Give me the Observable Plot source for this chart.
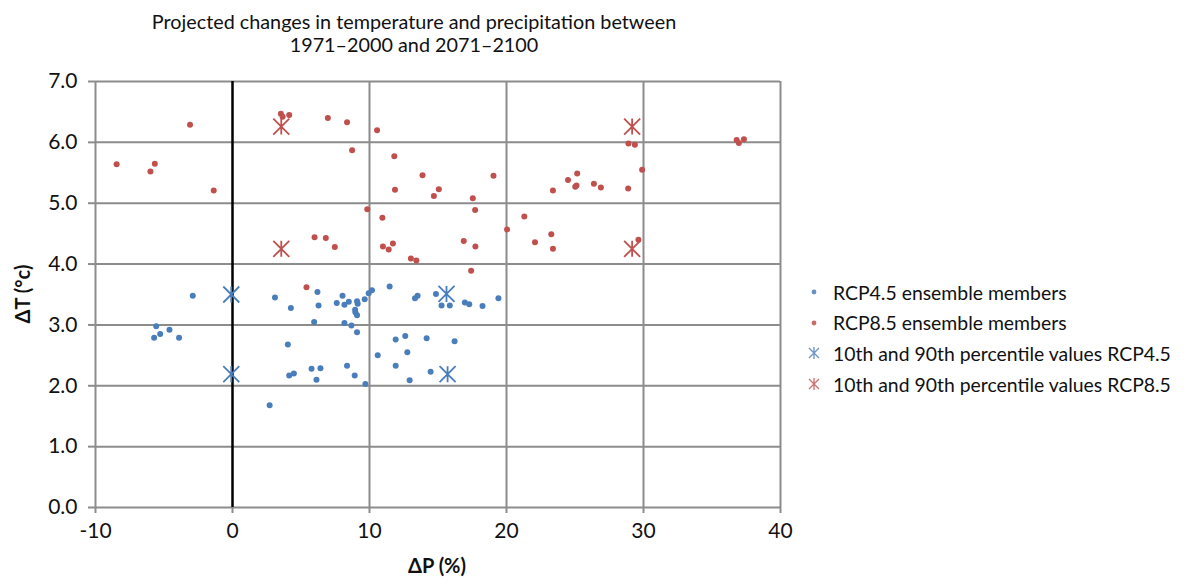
<!DOCTYPE html>
<html>
<head>
<meta charset="utf-8">
<script src="https://cdn.jsdelivr.net/npm/d3@7"></script>
<script src="https://cdn.jsdelivr.net/npm/@observablehq/plot@0.6"></script>
<style>
  html, body { margin: 0; padding: 0; background: #fff; }
  #wrap { position: relative; width: 1189px; height: 581px; font-family: Lato, "DejaVu Sans", sans-serif; color: #111; }
  #title { position: absolute; left: 0; top: 10px; width: 828px; text-align: center; font-size: 19.8px; line-height: 23px; }
  #xlabel { position: absolute; left: 337px; width: 200px; top: 553px; text-align: center; font-weight: bold; font-size: 20px; }
  #ylabel { position: absolute; left: 22px; top: 294px; transform: translate(-50%, -50%) rotate(-90deg); font-weight: bold; font-size: 20px; white-space: nowrap; }
  #legend { position: absolute; left: 803px; top: 277px; font-size: 19.4px; }
  #legend .item { display: flex; align-items: center; height: 30.6px; }
  #legend svg { width: 22px; height: 20px; margin-right: 8px; }
  #chart svg { display: block; }
</style>
</head>
<body>
<div id="wrap">
  <div id="chart"></div>
  <div id="title">Projected changes in temperature and precipitation between<br>1971–2000 and 2071–2100</div>
  <div id="xlabel">ΔP (%)</div>
  <div id="ylabel">ΔT (°c)</div>
  <div id="legend"></div>
</div>
<script>
// ---- data ----
const xTicks = [-10, 0, 10, 20, 30, 40];
const yTicks = [0, 1, 2, 3, 4, 5, 6, 7];

const rcp45P = [-2.90,-5.57,-5.28,-5.72,-4.60,-3.90,2.71,3.10,6.20,6.28,4.26,5.96,7.61,4.04,4.14,4.48,5.77,6.42,6.13,8.03,8.17,8.49,9.09,9.14,8.95,8.97,9.09,9.65,9.94,10.18,11.47,13.32,13.51,14.85,15.26,15.86,16.96,17.28,18.25,19.41,8.17,8.68,9.09,11.91,12.61,14.17,16.21,10.60,12.76,8.36,11.91,8.92,9.70,12.93,14.46];
const rcp45T = [3.48,2.98,2.85,2.79,2.92,2.79,1.68,3.45,3.54,3.32,3.28,3.05,3.36,2.68,2.17,2.20,2.28,2.29,2.10,3.48,3.33,3.38,3.39,3.35,3.25,3.21,3.16,3.42,3.52,3.57,3.63,3.44,3.48,3.51,3.32,3.32,3.37,3.34,3.31,3.44,3.03,2.99,2.88,2.76,2.82,2.78,2.73,2.50,2.55,2.33,2.33,2.17,2.03,2.09,2.23];

const rcp85P = [-8.46,-5.67,-5.99,-3.10,-1.37,3.53,3.66,4.14,6.96,8.36,10.55,8.73,11.81,13.87,19.05,11.86,15.06,14.70,17.54,17.71,9.84,10.94,5.99,6.81,7.47,5.40,10.98,11.71,11.40,13.02,13.42,16.88,17.73,17.42,20.04,21.30,22.08,23.27,23.39,23.39,24.49,25.16,25.02,25.11,26.38,26.89,28.88,28.90,29.37,29.90,36.80,36.96,37.33,29.63];
const rcp85T = [5.64,5.65,5.52,6.29,5.21,6.47,6.42,6.45,6.40,6.33,6.20,5.87,5.77,5.46,5.45,5.22,5.23,5.12,5.08,4.89,4.90,4.76,4.44,4.43,4.28,3.62,4.29,4.34,4.24,4.09,4.06,4.38,4.29,3.89,4.57,4.78,4.36,4.49,4.25,5.21,5.38,5.49,5.27,5.29,5.32,5.26,5.24,5.98,5.96,5.55,6.04,5.99,6.05,4.40];

const pct45P = [-0.09, -0.09, 15.62, 15.70];
const pct45T = [3.50, 2.19, 3.51, 2.19];
const pct85P = [3.56, 3.56, 29.17, 29.17];
const pct85T = [6.26, 4.25, 6.26, 4.25];

const seriesNames = ["RCP4.5 ensemble members", "RCP8.5 ensemble members", "10th and 90th percentile values RCP4.5", "10th and 90th percentile values RCP8.5"];
const blue = "#4a7ebb", red = "#c0504d", grid = "#8c8c8c";

const zip = (P, T) => P.map((p, i) => ({p, t: T[i]}));
const d45 = zip(rcp45P, rcp45T), d85 = zip(rcp85P, rcp85T);
const q45 = zip(pct45P, pct45T), q85 = zip(pct85P, pct85T);

// Excel-like star marker: X plus vertical bar
const star = {
  draw(ctx, size) {
    const r = Math.sqrt(size / Math.PI);
    ctx.moveTo(-r, -r); ctx.lineTo(r, r);
    ctx.moveTo(-r, r); ctx.lineTo(r, -r);
    ctx.moveTo(0, -r); ctx.lineTo(0, r);
  }
};

const plot = Plot.plot({
  width: 1189,
  height: 581,
  marginLeft: 95,
  marginRight: 409,
  marginTop: 81,
  marginBottom: 74,
  style: { fontFamily: "Lato, 'DejaVu Sans', sans-serif", color: "#111", background: "white" },
  x: { domain: [-10, 40] },
  y: { domain: [0, 7] },
  marks: [
    Plot.ruleY(yTicks, { stroke: grid, strokeWidth: 2 }),
    Plot.ruleX(xTicks.filter(d => d !== 0), { stroke: grid, strokeWidth: 2 }),
    Plot.ruleX([0], { stroke: "black", strokeWidth: 2.5 }),
    Plot.axisY({ ticks: yTicks, tickFormat: d3.format(".1f"), tickSize: 7, tickPadding: 11, fontSize: 21, label: null, stroke: grid, strokeWidth: 2, fill: "#111" }),
    Plot.axisX({ ticks: xTicks, tickFormat: d => String(d), tickSize: 6, tickPadding: 10, fontSize: 21, label: null, stroke: grid, strokeWidth: 2, fill: "#111" }),
    Plot.dot(d45, { x: "p", y: "t", r: 3, fill: blue }),
    Plot.dot(d85, { x: "p", y: "t", r: 3, fill: red }),
    Plot.dot(q45, { x: "p", y: "t", r: 8, symbol: star, stroke: blue, strokeWidth: 1.8 }),
    Plot.dot(q85, { x: "p", y: "t", r: 8, symbol: star, stroke: red, strokeWidth: 1.8 })
  ]
});
document.getElementById("chart").appendChild(plot);

// legend
const lg = d3.select("#legend");
const kinds = [
  { c: blue, t: "dot" }, { c: red, t: "dot" }, { c: blue, t: "star" }, { c: red, t: "star" }
];
seriesNames.forEach((name, i) => {
  const it = lg.append("div").attr("class", "item");
  const s = it.append("svg").attr("viewBox", "-11 -10 22 20");
  const k = kinds[i];
  if (k.t === "dot") {
    s.append("circle").attr("r", 2.4).attr("fill", k.c).attr("opacity", 0.85);
  } else {
    s.append("path").attr("d", "M-5,-5L5,5M-5,5L5,-5M0,-6L0,6").attr("stroke", k.c).attr("stroke-width", 1.4).attr("fill", "none").attr("opacity", 0.8);
  }
  it.append("span").text(name);
});
</script>
</body>
</html>
